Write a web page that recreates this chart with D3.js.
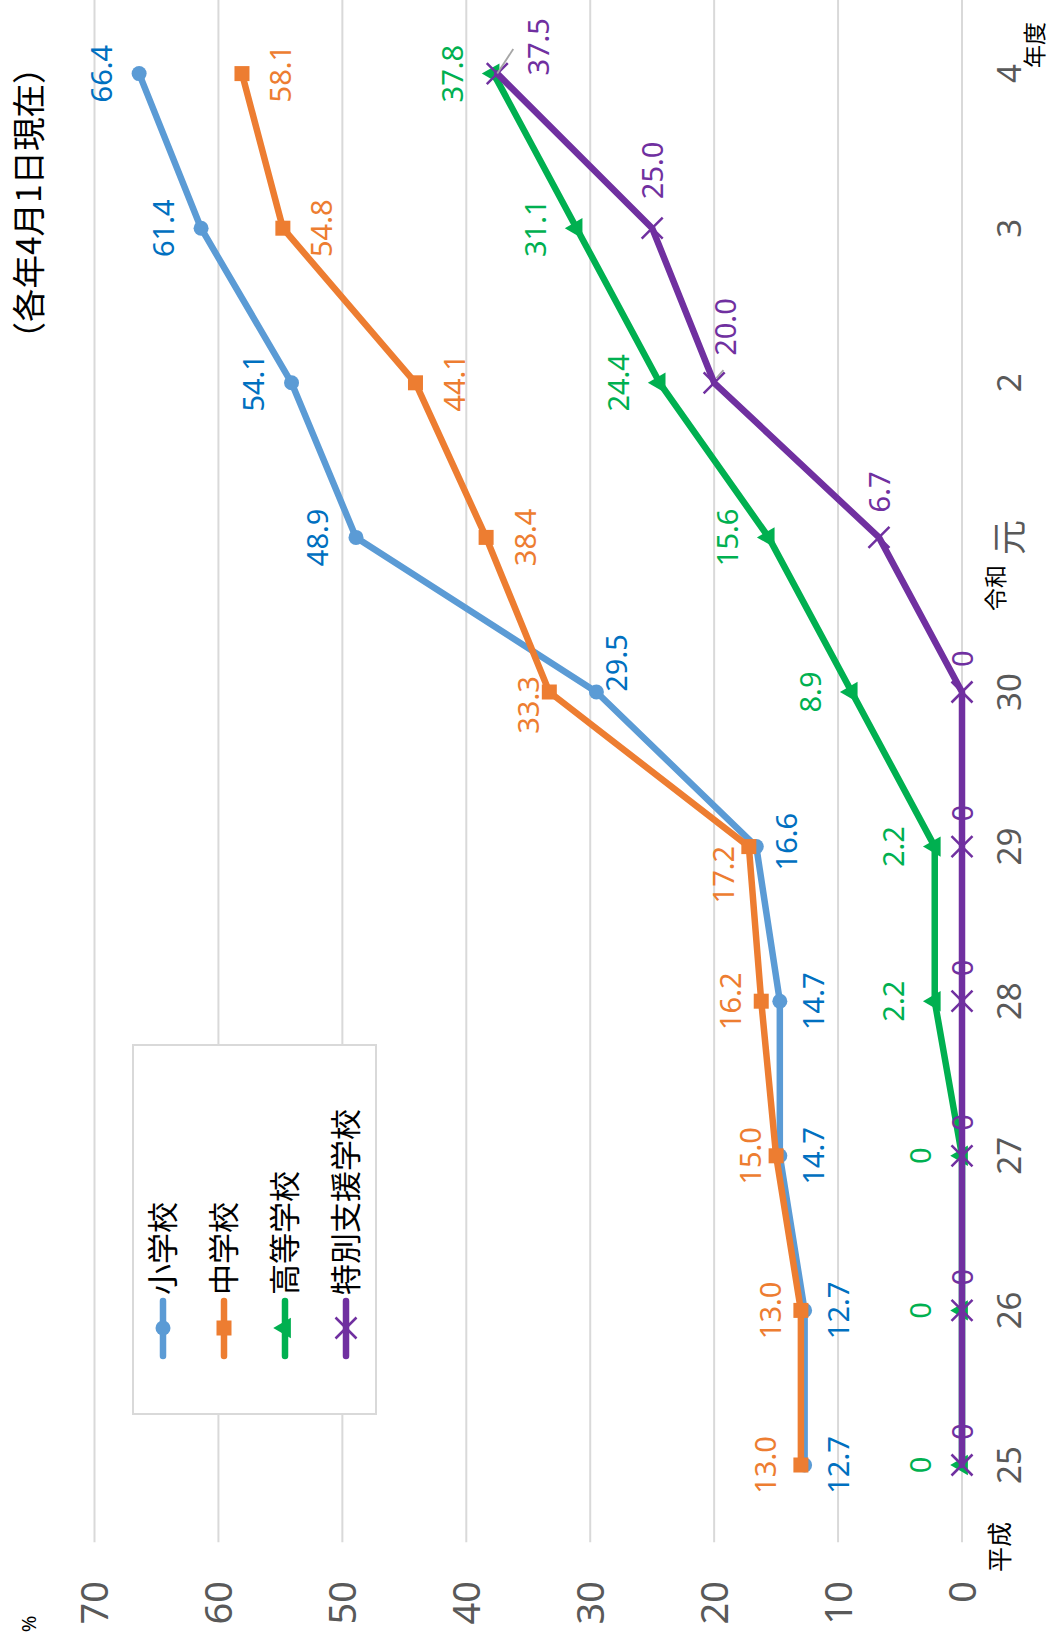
<!DOCTYPE html>
<html><head><meta charset="utf-8">
<script src="https://cdn.jsdelivr.net/npm/d3@7"></script>
<style>body{margin:0;background:#fff} svg{display:block}</style>
</head><body><svg id="c" width="1050" height="1648"></svg>
<script>
// ---- data ----
const years = ["25","26","27","28","29","30","元","2","3","4"];
const seriesNames = ["小学校","中学校","高等学校","特別支援学校"];
const elementary   = [12.7,12.7,14.7,14.7,16.6,29.5,48.9,54.1,61.4,66.4];
const juniorHigh   = [13.0,13.0,15.0,16.2,17.2,33.3,38.4,44.1,54.8,58.1];
const highSchool   = [0,0,0,2.2,2.2,8.9,15.6,24.4,31.1,37.8];
const specialNeeds = [0,0,0,0,0,0,6.7,20.0,25.0,37.5];
const valueTicks = [0,10,20,30,40,50,60,70];

// label placement (like Excel label position settings)
const placeElem = ["below","below","below","below",{du:5,dv:30},{du:29,dv:20},"above","above","above","above"];
const placeJr   = [{du:0,dv:-35},{du:0,dv:-30},{du:0,dv:-26},{du:0,dv:-31},{du:-28,dv:-25},{du:-13,dv:-21},"belowFar","belowFar","belowFar","belowFar"];
const placeHigh = ["aboveFar","aboveFar","aboveFar","aboveFar","aboveFar","aboveFar","aboveFar","aboveFar","aboveFar","aboveFar"];
const placeSp   = ["right","right","right","right","right","right","right",
                   {du:27,dv:11,anchor:"start",leader:[[4.6,2.3],[12.6,9.3]]},
                   {du:29,dv:0,anchor:"start"},
                   {du:-2,dv:41,anchor:"start",leader:[[0,0],[24.6,16]]}];

const series = [
  {name:seriesNames[0], values:elementary,   line:"#5B9BD5", label:"#0070C0", marker:"circle",   place:placeElem},
  {name:seriesNames[1], values:juniorHigh,   line:"#ED7D31", label:"#ED7D31", marker:"square",   place:placeJr},
  {name:seriesNames[2], values:highSchool,   line:"#00B050", label:"#00B050", marker:"triangle", place:placeHigh},
  {name:seriesNames[3], values:specialNeeds, line:"#7030A0", label:"#7030A0", marker:"x",        place:placeSp}
];

const NUM = "'Noto Sans', 'Open Sans', sans-serif";
const CJK = "'Noto Sans CJK JP', 'Noto Sans', sans-serif";

const svg = d3.select("#c");
svg.append("rect").attr("width",1050).attr("height",1648).attr("fill","#fff");
// whole chart is drawn unrotated, then turned 90° counter-clockwise
const g = svg.append("g").attr("transform","translate(0,1648) rotate(-90)");

const x = d3.scalePoint().domain(years).range([105.7,1651.7]).padding(0.5);
const y = d3.scaleLinear().domain([0,70]).range([962,94.5]);

// gridlines
g.append("g").selectAll("line").data(valueTicks).join("line")
  .attr("x1",105.7).attr("x2",1660)
  .attr("y1",d=>y(d)).attr("y2",d=>y(d))
  .attr("stroke","#D9D9D9").attr("stroke-width",2);

// value axis labels
g.append("g").selectAll("text").data(valueTicks).join("text")
  .attr("x",67).attr("y",d=>y(d)).attr("dy","0.36em")
  .attr("text-anchor","end")
  .attr("font-family",NUM).attr("font-size",38).attr("fill","#595959")
  .text(d=>d);

// category labels
g.append("g").selectAll("text").data(years).join("text")
  .attr("x",d=>x(d)).attr("y",1009).attr("dy","0.36em")
  .attr("text-anchor","middle")
  .attr("font-family",d=>d==="元"?CJK:NUM)
  .attr("font-size",d=>d==="元"?35:33).attr("fill","#595959")
  .text(d=>d);

// era / unit texts
g.append("text").attr("x",1083).attr("y",996).attr("dy","0.36em").attr("text-anchor","end")
  .attr("font-family",CJK).attr("font-size",23).attr("fill","#000").text("令和");
g.append("text").attr("x",101).attr("y",1000).attr("dy","0.36em").attr("text-anchor","middle")
  .attr("font-family",CJK).attr("font-size",25).attr("fill","#000").text("平成");
g.append("text").attr("x",1603).attr("y",1035).attr("dy","0.36em").attr("text-anchor","middle")
  .attr("font-family",CJK).attr("font-size",23).attr("fill","#000").text("年度");
g.append("text").attr("x",24).attr("y",29).attr("dy","0.36em").attr("text-anchor","middle")
  .attr("font-family",NUM).attr("font-size",20).attr("fill","#000").text("%");
g.append("text").attr("x",1445).attr("y",29).attr("dy","0.36em").attr("text-anchor","middle")
  .attr("font-family",CJK).attr("font-size",33.5).attr("fill","#000").text("（各年4月1日現在）");

// marker drawing
function drawMarker(sel, type, color){
  if(type==="circle"){
    sel.append("circle").attr("r",7.5).attr("fill",color);
  } else if(type==="square"){
    sel.append("rect").attr("x",-7.5).attr("y",-7.5).attr("width",15).attr("height",15).attr("fill",color);
  } else if(type==="triangle"){
    sel.append("path").attr("d",d3.symbol(d3.symbolTriangle,180)()).attr("fill",color);
  } else {
    const h=10.5;
    sel.append("path").attr("d",`M${-h},${-h}L${h},${h}M${-h},${h}L${h},${-h}`)
      .attr("stroke",color).attr("stroke-width",2.5).attr("fill","none");
  }
}

// series lines and markers
const line = d3.line().x((d,i)=>x(years[i])).y(d=>y(d));
series.forEach(s=>{
  const sg = g.append("g");
  sg.append("path").attr("d",line(s.values)).attr("fill","none")
    .attr("stroke",s.line).attr("stroke-width",6.5)
    .attr("stroke-linejoin","round").attr("stroke-linecap","round");
  s.values.forEach((v,i)=>{
    const m = sg.append("g").attr("transform",`translate(${x(years[i])},${y(v)})`);
    drawMarker(m, s.marker, s.line);
  });
});

// data labels
const fmt = v => v===0 ? "0" : v.toFixed(1);
function placement(p){
  if(p==="above") return {du:0,dv:-38,anchor:"middle"};
  if(p==="aboveFar") return {du:0,dv:-41,anchor:"middle"};
  if(p==="below") return {du:0,dv:34,anchor:"middle"};
  if(p==="belowFar") return {du:0,dv:39,anchor:"middle"};
  if(p==="right") return {du:25,dv:1,anchor:"start"};
  return Object.assign({anchor:"middle"},p);
}
const lg = g.append("g");
series.forEach(s=>{
  s.values.forEach((v,i)=>{
    const p = placement(s.place[i]);
    const px = x(years[i]), py = y(v);
    if(p.leader){
      lg.append("line")
        .attr("x1",px+p.leader[0][0]).attr("y1",py+p.leader[0][1])
        .attr("x2",px+p.leader[1][0]).attr("y2",py+p.leader[1][1])
        .attr("stroke","#A6A6A6").attr("stroke-width",1.8);
    }
    lg.append("text").attr("x",px+p.du).attr("y",py+p.dv).attr("dy","0.36em")
      .attr("text-anchor",p.anchor)
      .attr("font-family",NUM).attr("font-size",29).attr("fill",s.label)
      .text(fmt(v));
  });
});

// legend
const leg = g.append("g");
leg.append("rect").attr("x",234).attr("y",133).attr("width",369).attr("height",243)
  .attr("fill","#fff").attr("stroke","#D9D9D9").attr("stroke-width",2);
const legV = [163,224,285,346];
series.forEach((s,k)=>{
  const e = leg.append("g").attr("transform",`translate(0,${legV[k]})`);
  e.append("line").attr("x1",292).attr("x2",347).attr("y1",0).attr("y2",0)
    .attr("stroke",s.line).attr("stroke-width",6.5).attr("stroke-linecap","round");
  const m = e.append("g").attr("transform","translate(320,0)");
  drawMarker(m, s.marker, s.line);
  e.append("text").attr("x",353).attr("y",0).attr("dy","0.36em")
    .attr("font-family",CJK).attr("font-size",31).attr("fill","#000").text(s.name);
});
</script>
</body></html>
